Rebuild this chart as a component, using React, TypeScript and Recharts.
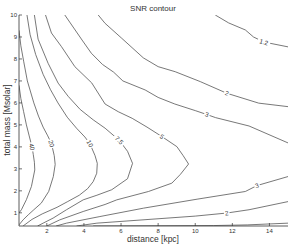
import { LineChart, Line, XAxis, YAxis } from 'recharts'

type Pt = { x: number; y: number }

const xTicks = [2, 4, 6, 8, 10, 12, 14]
const yTicks = [1, 2, 3, 4, 5, 6, 7, 8, 9, 10]

// contour lines, (distance kpc, total mass Msolar)
const snr40: Pt[] = [
  { x: 0.5, y: 6.8 }, { x: 0.6, y: 6.2 }, { x: 0.75, y: 5.6 }, { x: 0.9, y: 5.0 },
  { x: 1.05, y: 4.5 }, { x: 1.2, y: 4.0 }, { x: 1.27, y: 3.65 }, { x: 1.33, y: 3.3 },
  { x: 1.35, y: 2.95 }, { x: 1.17, y: 2.2 }, { x: 0.9, y: 1.6 }, { x: 0.63, y: 1.14 },
  { x: 0.5, y: 1.0 },
]
const snr20: Pt[] = [
  { x: 0.5, y: 9.3 }, { x: 0.6, y: 8.6 }, { x: 0.75, y: 7.9 }, { x: 0.95, y: 7.0 },
  { x: 1.3, y: 6.0 }, { x: 1.55, y: 5.4 }, { x: 1.8, y: 4.9 }, { x: 2.05, y: 4.5 },
  { x: 2.25, y: 4.15 }, { x: 2.4, y: 3.6 }, { x: 2.45, y: 3.2 }, { x: 2.35, y: 2.65 },
  { x: 2.1, y: 1.97 }, { x: 1.7, y: 1.44 }, { x: 1.3, y: 1.14 }, { x: 1.0, y: 0.91 },
  { x: 0.72, y: 0.68 }, { x: 0.5, y: 0.45 },
]
const snr10: Pt[] = [
  { x: 0.93, y: 10 }, { x: 1.1, y: 9.1 }, { x: 1.4, y: 8.2 }, { x: 1.8, y: 7.3 },
  { x: 2.2, y: 6.6 }, { x: 2.6, y: 6.0 }, { x: 3.1, y: 5.35 }, { x: 3.6, y: 4.85 },
  { x: 4.05, y: 4.45 }, { x: 4.32, y: 4.15 }, { x: 4.6, y: 3.6 }, { x: 4.72, y: 3.25 },
  { x: 4.69, y: 2.8 }, { x: 4.5, y: 2.42 }, { x: 4.2, y: 2.1 }, { x: 3.75, y: 1.8 },
  { x: 3.1, y: 1.5 }, { x: 2.55, y: 1.25 }, { x: 1.75, y: 0.95 }, { x: 1.2, y: 0.7 },
  { x: 0.72, y: 0.4 },
]
const snr75: Pt[] = [
  { x: 1.33, y: 10 }, { x: 1.53, y: 8.9 }, { x: 2.07, y: 7.8 }, { x: 2.61, y: 6.9 },
  { x: 3.15, y: 6.3 }, { x: 3.8, y: 5.7 }, { x: 4.5, y: 5.23 }, { x: 5.14, y: 4.85 },
  { x: 5.9, y: 4.3 }, { x: 6.35, y: 3.8 }, { x: 6.62, y: 3.25 }, { x: 6.35, y: 2.55 },
  { x: 5.5, y: 2.05 }, { x: 4.7, y: 1.8 }, { x: 3.96, y: 1.59 }, { x: 3.06, y: 1.14 },
  { x: 2.34, y: 0.76 }, { x: 1.8, y: 0.53 }, { x: 1.5, y: 0.4 },
]
const snr5: Pt[] = [
  { x: 1.93, y: 10 }, { x: 2.25, y: 9.18 }, { x: 2.79, y: 8.56 }, { x: 3.51, y: 7.65 },
  { x: 4.42, y: 6.91 }, { x: 5.14, y: 5.95 }, { x: 5.85, y: 5.6 }, { x: 6.6, y: 5.3 },
  { x: 7.4, y: 4.9 }, { x: 8.2, y: 4.47 }, { x: 9.01, y: 4.01 }, { x: 9.35, y: 3.6 },
  { x: 9.64, y: 3.22 }, { x: 9.2, y: 2.75 }, { x: 8.74, y: 2.35 }, { x: 7.48, y: 1.97 },
  { x: 5.77, y: 1.59 }, { x: 5.14, y: 1.38 }, { x: 3.96, y: 1.06 }, { x: 2.7, y: 0.68 },
  { x: 2.0, y: 0.4 },
]
const snr3Upper: Pt[] = [
  { x: 2.97, y: 10 }, { x: 3.9, y: 8.86 }, { x: 4.4, y: 8.26 }, { x: 5.0, y: 7.75 },
  { x: 5.6, y: 7.4 }, { x: 6.1, y: 7.0 }, { x: 7.3, y: 6.59 }, { x: 8.0, y: 6.25 },
  { x: 8.9, y: 5.95 }, { x: 10.0, y: 5.65 }, { x: 10.63, y: 5.47 }, { x: 11.1, y: 5.33 },
  { x: 12.9, y: 4.95 }, { x: 15, y: 4.18 },
]
const snr3Lower: Pt[] = [
  { x: 2.5, y: 0.4 }, { x: 3.06, y: 0.53 }, { x: 4.86, y: 0.83 }, { x: 7.2, y: 1.21 },
  { x: 10.1, y: 1.62 }, { x: 12.7, y: 1.97 }, { x: 13.33, y: 2.24 }, { x: 15, y: 2.65 },
]
const snr2Upper: Pt[] = [
  { x: 4.77, y: 10 }, { x: 5.14, y: 9.62 }, { x: 6.04, y: 8.94 }, { x: 7.2, y: 8.05 },
  { x: 8.0, y: 7.65 }, { x: 8.92, y: 7.42 }, { x: 10.27, y: 6.97 }, { x: 11.7, y: 6.44 },
  { x: 13.42, y: 5.99 }, { x: 15, y: 5.83 },
]
const snr2Lower: Pt[] = [
  { x: 3.6, y: 0.4 }, { x: 4.7, y: 0.53 }, { x: 10.0, y: 0.85 }, { x: 11.7, y: 0.99 },
  { x: 12.9, y: 1.14 }, { x: 15, y: 1.51 },
]
const snr12Upper: Pt[] = [
  { x: 11.08, y: 10 }, { x: 11.8, y: 9.64 }, { x: 12.7, y: 9.32 }, { x: 13.14, y: 9.0 },
  { x: 13.7, y: 8.77 }, { x: 15, y: 8.55 },
]
const snr12Lower: Pt[] = [
  { x: 4.5, y: 0.4 }, { x: 8, y: 0.41 }, { x: 11, y: 0.42 }, { x: 12.8, y: 0.45 },
  { x: 15, y: 0.53 },
]

const contours = [
  { id: 'snr40', pts: snr40 },
  { id: 'snr20', pts: snr20 },
  { id: 'snr10', pts: snr10 },
  { id: 'snr75', pts: snr75 },
  { id: 'snr5', pts: snr5 },
  { id: 'snr3Upper', pts: snr3Upper },
  { id: 'snr3Lower', pts: snr3Lower },
  { id: 'snr2Upper', pts: snr2Upper },
  { id: 'snr2Lower', pts: snr2Lower },
  { id: 'snr12Upper', pts: snr12Upper },
  { id: 'snr12Lower', pts: snr12Lower },
]

// which point of which line carries the level label
const contourLabels = [
  { id: 'snr40', at: 5, text: '40' },
  { id: 'snr20', at: 8, text: '20' },
  { id: 'snr10', at: 9, text: '10' },
  { id: 'snr75', at: 8, text: '7.5' },
  { id: 'snr5', at: 9, text: '5' },
  { id: 'snr3Upper', at: 10, text: '3' },
  { id: 'snr3Lower', at: 6, text: '3' },
  { id: 'snr2Upper', at: 7, text: '2' },
  { id: 'snr2Lower', at: 3, text: '2' },
  { id: 'snr12Upper', at: 4, text: '1.2' },
]

const FONT = '"Liberation Sans", Arial, sans-serif'
const INK = '#333'
const LINE = '#555'

const W = 290
const H = 245
const M = { top: 15, right: 2, bottom: 0, left: 0 }
const Y_AXIS_W = 19
const X_AXIS_H = 19
const X_MIN = 0.5
const X_MAX = 15
const Y_MIN = 0.4
const Y_MAX = 10
const PX_X = (W - M.left - M.right - Y_AXIS_W) / (X_MAX - X_MIN)
const PX_Y = (H - M.top - M.bottom - X_AXIS_H) / (Y_MAX - Y_MIN)

function labelDot(id: string, pts: Pt[]) {
  return (props: any) => {
    const { cx, cy, index } = props
    const key = `lab-${id}-${index}`
    const lab = contourLabels.find((l) => l.id === id && l.at === index)
    if (!lab || cx == null || cy == null) return <g key={key} />
    const a = pts[Math.max(index - 1, 0)]
    const b = pts[Math.min(index + 1, pts.length - 1)]
    let ang = (Math.atan2(-(b.y - a.y) * PX_Y, (b.x - a.x) * PX_X) * 180) / Math.PI
    if (ang > 90) ang -= 180
    if (ang < -90) ang += 180
    const w = lab.text.length * 3.6 + 2
    return (
      <g key={key} transform={`translate(${cx},${cy}) rotate(${ang})`}>
        <rect x={-w / 2} y={-3} width={w} height={6} fill="#fff" />
        <text x={0} y={2.2} textAnchor="middle" fontSize={6.3} fill={INK} fontFamily={FONT}>
          {lab.text}
        </text>
      </g>
    )
  }
}

const BottomTick = (p: any) => (
  <g>
    <line x1={p.x} x2={p.x} y1={p.y} y2={p.y - 3} stroke={INK} strokeWidth={0.7} />
    <text x={p.x} y={p.y + 7} textAnchor="middle" fontSize={6} fill={INK} fontFamily={FONT}>
      {p.payload.value}
    </text>
  </g>
)
const TopTick = (p: any) => (
  <line x1={p.x} x2={p.x} y1={p.y} y2={p.y + 3} stroke={INK} strokeWidth={0.7} />
)
const LeftTick = (p: any) => (
  <g>
    <line x1={p.x} x2={p.x + 3} y1={p.y} y2={p.y} stroke={INK} strokeWidth={0.7} />
    <text x={p.x - 2} y={p.y + 2.1} textAnchor="end" fontSize={6} fill={INK} fontFamily={FONT}>
      {p.payload.value}
    </text>
  </g>
)
const RightTick = (p: any) => (
  <line x1={p.x} x2={p.x - 3} y1={p.y} y2={p.y} stroke={INK} strokeWidth={0.7} />
)

export default function App() {
  return (
    <div style={{ position: 'absolute', left: 0, top: 0, width: W, height: H, background: '#fff' }}>
      <LineChart width={W} height={H} margin={M}>
        <XAxis
          xAxisId="b"
          type="number"
          dataKey="x"
          domain={[X_MIN, X_MAX]}
          ticks={xTicks}
          interval={0}
          allowDataOverflow
          height={X_AXIS_H}
          tickSize={0}
          tickMargin={0}
          tickLine={false}
          tick={<BottomTick />}
          axisLine={{ stroke: INK, strokeWidth: 0.8 }}
        />
        <XAxis
          xAxisId="t"
          orientation="top"
          type="number"
          dataKey="x"
          domain={[X_MIN, X_MAX]}
          ticks={xTicks}
          interval={0}
          allowDataOverflow
          height={0}
          tickSize={0}
          tickMargin={0}
          tickLine={false}
          tick={<TopTick />}
          axisLine={{ stroke: INK, strokeWidth: 0.8 }}
        />
        <YAxis
          yAxisId="l"
          type="number"
          domain={[Y_MIN, Y_MAX]}
          ticks={yTicks}
          interval={0}
          allowDataOverflow
          width={Y_AXIS_W}
          tickSize={0}
          tickMargin={0}
          tickLine={false}
          tick={<LeftTick />}
          axisLine={{ stroke: INK, strokeWidth: 0.8 }}
        />
        <YAxis
          yAxisId="r"
          orientation="right"
          type="number"
          domain={[Y_MIN, Y_MAX]}
          ticks={yTicks}
          interval={0}
          allowDataOverflow
          width={0}
          tickSize={0}
          tickMargin={0}
          tickLine={false}
          tick={<RightTick />}
          axisLine={{ stroke: INK, strokeWidth: 0.8 }}
        />
        {contours.map((c) => (
          <Line
            key={c.id}
            xAxisId="b"
            yAxisId="l"
            data={c.pts}
            dataKey="y"
            type="linear"
            stroke={LINE}
            strokeWidth={0.8}
            dot={labelDot(c.id, c.pts)}
            activeDot={false}
            isAnimationActive={false}
          />
        ))}
      </LineChart>
      <svg
        width={W}
        height={H}
        style={{ position: 'absolute', left: 0, top: 0, pointerEvents: 'none' }}
      >
        <text x={153} y={10.5} textAnchor="middle" fontSize={8} fill={INK} fontFamily={FONT}>
          SNR contour
        </text>
        <text x={153} y={242} textAnchor="middle" fontSize={8.5} fill={INK} fontFamily={FONT}>
          distance [kpc]
        </text>
        <text
          transform="translate(10,120) rotate(-90)"
          textAnchor="middle"
          fontSize={8.5}
          fill={INK}
          fontFamily={FONT}
        >
          total mass [Msolar]
        </text>
      </svg>
    </div>
  )
}
